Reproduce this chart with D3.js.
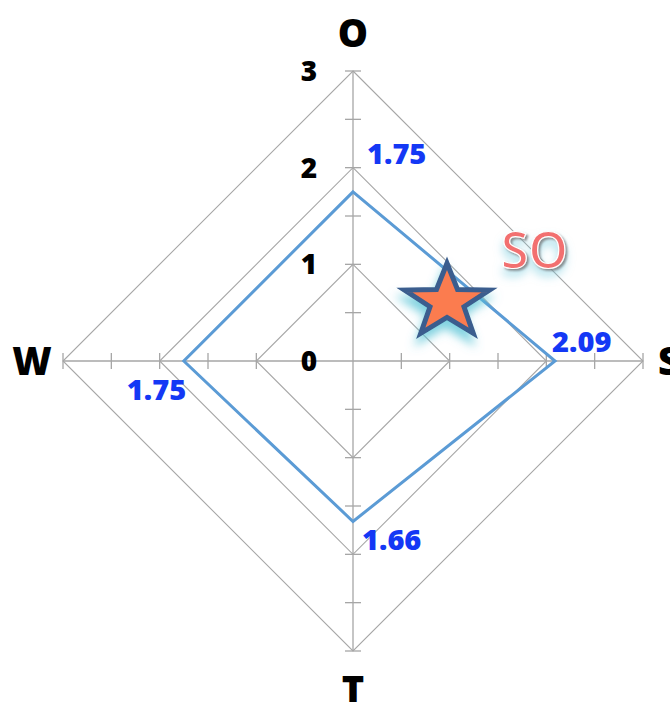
<!DOCTYPE html>
<html>
<head>
<meta charset="utf-8">
<script src="https://cdn.jsdelivr.net/npm/d3@7"></script>
<style>
html,body{margin:0;padding:0;background:#fff;}
svg{display:block;}
</style>
</head>
<body>
<script>
// ---- data ----
const axes = ["O", "S", "T", "W"];
const values = [1.75, 2.09, 1.66, 1.75];
const gridLevels = [1, 2, 3];
const tickValues = [0.5, 1, 1.5, 2, 2.5, 3];
const tickLabels = [0, 1, 2, 3];
const annotation = "SO";

// ---- layout ----
const W = 670, H = 702;
const cx = 353, cy = 361, R = 290;

const svg = d3.select("body").append("svg").attr("width", W).attr("height", H);
const defs = svg.append("defs");

// star glow
const f1 = defs.append("filter").attr("id", "glow").attr("x", "-50%").attr("y", "-50%").attr("width", "200%").attr("height", "200%");
f1.append("feGaussianBlur").attr("in", "SourceAlpha").attr("stdDeviation", 5).attr("result", "b");
f1.append("feOffset").attr("in", "b").attr("dx", -2).attr("dy", 8).attr("result", "o");
f1.append("feFlood").attr("flood-color", "#56c3d6").attr("flood-opacity", 0.75).attr("result", "c");
f1.append("feComposite").attr("in", "c").attr("in2", "o").attr("operator", "in").attr("result", "g");
const m1 = f1.append("feMerge");
m1.append("feMergeNode").attr("in", "g");
m1.append("feMergeNode").attr("in", "SourceGraphic");

// text glow + shadow
const f2 = defs.append("filter").attr("id", "tglow").attr("x", "-50%").attr("y", "-50%").attr("width", "200%").attr("height", "200%");
f2.append("feGaussianBlur").attr("in", "SourceAlpha").attr("stdDeviation", 5).attr("result", "b");
f2.append("feOffset").attr("in", "b").attr("dx", 0).attr("dy", 7).attr("result", "o");
f2.append("feFlood").attr("flood-color", "#6cc8dc").attr("flood-opacity", 0.6).attr("result", "c");
f2.append("feComposite").attr("in", "c").attr("in2", "o").attr("operator", "in").attr("result", "g");
f2.append("feOffset").attr("in", "SourceAlpha").attr("dx", 1.5).attr("dy", 1.5).attr("result", "so");
f2.append("feGaussianBlur").attr("in", "so").attr("stdDeviation", 0.8).attr("result", "sb");
f2.append("feFlood").attr("flood-color", "#777").attr("flood-opacity", 0.8).attr("result", "sc");
f2.append("feComposite").attr("in", "sc").attr("in2", "sb").attr("operator", "in").attr("result", "sh");
const m2 = f2.append("feMerge");
m2.append("feMergeNode").attr("in", "g");
m2.append("feMergeNode").attr("in", "sh");
m2.append("feMergeNode").attr("in", "SourceGraphic");

const r = d3.scaleLinear().domain([0, 3]).range([0, R]);
const angle = d3.scaleOrdinal().domain(axes).range(axes.map((d, i) => i * Math.PI / 2));

const g = svg.append("g").attr("transform", `translate(${cx},${cy})`);

const radial = d3.lineRadial().curve(d3.curveLinearClosed);

// grid diamonds
g.selectAll("path.grid").data(gridLevels).join("path")
  .attr("class", "grid")
  .attr("d", lv => radial(axes.map(a => [angle(a), r(lv)])))
  .attr("fill", "none").attr("stroke", "#a6a6a6").attr("stroke-width", 1.1);

// axis lines
const toXY = (a, v) => [Math.sin(angle(a)) * r(v), -Math.cos(angle(a)) * r(v)];
g.selectAll("line.axis").data(axes).join("line")
  .attr("class", "axis")
  .attr("x1", 0).attr("y1", 0)
  .attr("x2", a => toXY(a, 3)[0]).attr("y2", a => toXY(a, 3)[1])
  .attr("stroke", "#a6a6a6").attr("stroke-width", 1.3);

// tick marks
const tickData = [];
axes.forEach(a => tickValues.forEach(v => tickData.push({ a, v })));
const tl = 8;
g.selectAll("line.tick").data(tickData).join("line")
  .attr("class", "tick")
  .attr("x1", d => { const [x] = toXY(d.a, d.v); const ang = angle(d.a); return x - Math.cos(ang) * tl; })
  .attr("y1", d => { const [, y] = toXY(d.a, d.v); const ang = angle(d.a); return y - Math.sin(ang) * tl; })
  .attr("x2", d => { const [x] = toXY(d.a, d.v); const ang = angle(d.a); return x + Math.cos(ang) * tl; })
  .attr("y2", d => { const [, y] = toXY(d.a, d.v); const ang = angle(d.a); return y + Math.sin(ang) * tl; })
  .attr("stroke", "#a6a6a6").attr("stroke-width", 1.3);

// tick labels
g.selectAll("text.tl").data(tickLabels).join("text")
  .attr("class", "tl")
  .attr("x", -44).attr("y", v => -r(v))
  .attr("dy", "0.36em")
  .attr("text-anchor", "middle")
  .attr("font-family", "Open Sans, sans-serif").attr("font-weight", 800).attr("font-size", 28)
  .attr("fill", "#000")
  .text(d => d);

// data polygon
g.append("path")
  .attr("d", radial(axes.map((a, i) => [angle(a), r(values[i])])))
  .attr("fill", "none").attr("stroke", "#5b9bd5").attr("stroke-width", 3).attr("stroke-linejoin", "miter");

// axis names
const nameDist = { O: 328, S: 316, T: 329, W: 321 };
g.selectAll("text.name").data(axes).join("text")
  .attr("class", "name")
  .attr("x", a => Math.sin(angle(a)) * nameDist[a])
  .attr("y", a => -Math.cos(angle(a)) * nameDist[a])
  .attr("dy", "0.36em")
  .attr("text-anchor", "middle")
  .attr("font-family", "Open Sans, sans-serif").attr("font-weight", 800).attr("font-size", 38)
  .attr("fill", "#000")
  .text(a => a);

// data labels
const labelOff = { O: [14, -28], S: [-3, -9], T: [9, 29], W: [-57, 39] };
g.selectAll("text.dl").data(axes).join("text")
  .attr("class", "dl")
  .attr("x", (a, i) => toXY(a, values[i])[0] + labelOff[a][0])
  .attr("y", (a, i) => toXY(a, values[i])[1] + labelOff[a][1])
  .attr("font-family", "Open Sans, sans-serif").attr("font-weight", 800).attr("font-size", 29)
  .attr("fill", "#1438f5")
  .text((a, i) => values[i].toFixed(2));

// star
const sx = 447, sy = 302, srx = 44.7, sry = 38.7, inner = 0.4;
const starPts = d3.range(10).map(i => {
  const ang = i * Math.PI / 5;
  const k = i % 2 === 0 ? 1 : inner;
  return [sx + Math.sin(ang) * srx * k, sy - Math.cos(ang) * sry * k];
});
svg.append("path")
  .attr("d", d3.line()(starPts) + "Z")
  .attr("fill", "#fb7c4f").attr("stroke", "#3b5d8e").attr("stroke-width", 5).attr("stroke-linejoin", "miter")
  .attr("filter", "url(#glow)");

// SO annotation
svg.append("text")
  .attr("x", 501).attr("y", 268)
  .attr("font-family", "Open Sans, sans-serif").attr("font-weight", 600).attr("font-size", 50)
  .attr("fill", "#f26f6f").attr("stroke", "#ffffff").attr("stroke-width", 1.2)
  .attr("paint-order", "fill")
  .attr("filter", "url(#tglow)")
  .text(annotation);
</script>
</body>
</html>
